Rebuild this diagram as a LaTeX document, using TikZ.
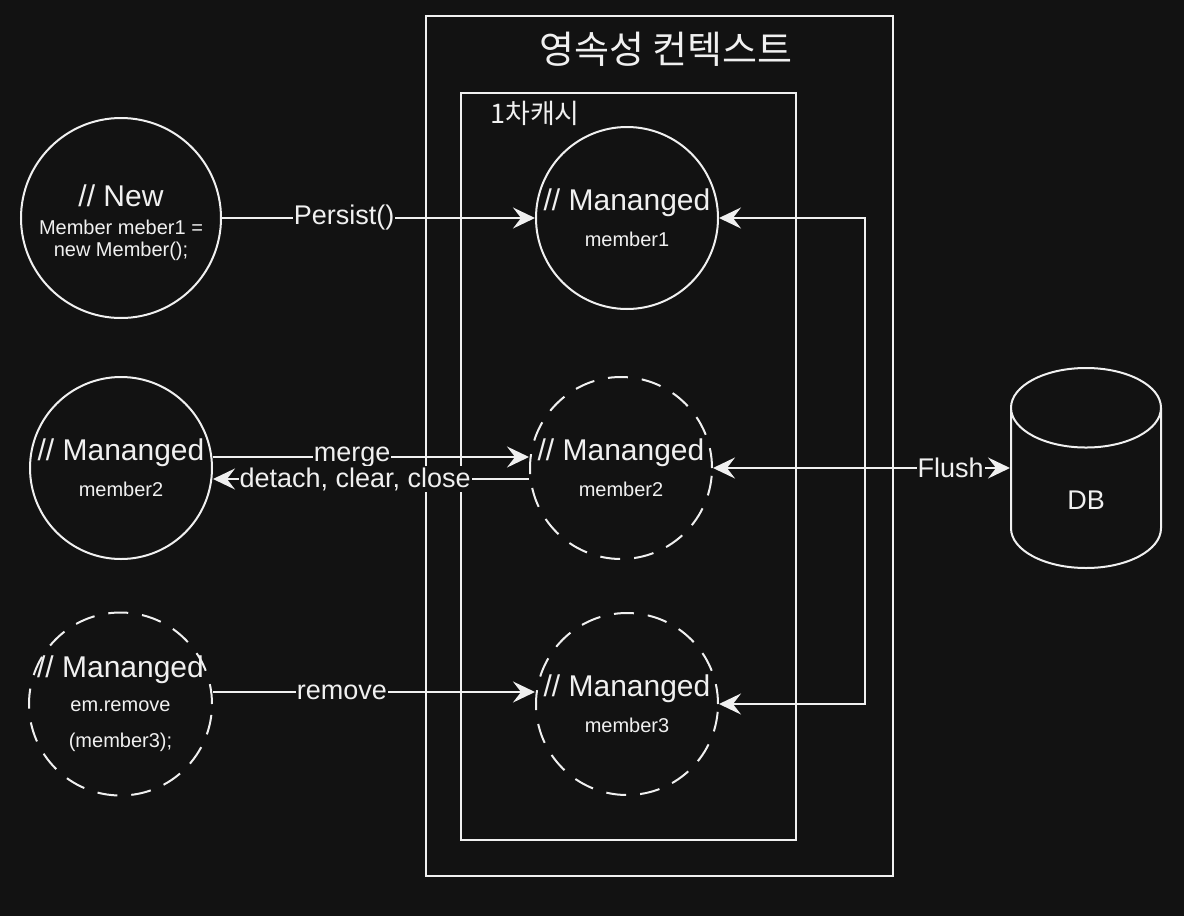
\documentclass[tikz,border=0pt]{standalone}
\usepackage{fontspec}
\setmainfont{Liberation Sans}
\newfontfamily\krfont{Noto Sans CJK KR}
\usetikzlibrary{positioning,arrows.meta,shapes.geometric}
\definecolor{bg}{RGB}{18,18,18}
\definecolor{fg}{RGB}{240,240,240}

\begin{document}
\begin{tikzpicture}[
        x=1pt, y=-1pt,
        >={Stealth[length=22pt, width=21pt, inset=8pt]},
        frame/.style={draw=fg, line width=2pt},
        ttl/.style={text=fg, inner sep=0pt},
        obj/.style={circle, draw=fg, line width=2pt, inner sep=0pt, minimum size=182pt, align=center, text=fg, font=\fontsize{20}{24}\selectfont},
        gone/.style={obj, dash pattern=on 20pt off 14pt},
        db/.style={cylinder, shape border rotate=90, aspect=1.8, draw=fg, line width=2pt, minimum width=150pt, minimum height=200pt, text=fg, text height=31pt, text depth=0pt, font=\fontsize{27}{32}\selectfont},
        flow/.style={draw=fg, line width=2pt, ->},
        lbl/.style={fill=bg, text=fg, inner sep=1pt, font=\fontsize{27}{32}\selectfont}
    ]
        \fill[bg] (0,0) rectangle (1184,916);
        \useasboundingbox (0,0) rectangle (1184,916);

        % persistence context and its first-level cache
        \node[frame, minimum width=467pt, minimum height=860pt] (ctx) at (659.5,446) {};
        \node[frame, minimum width=335pt, minimum height=747pt] (cache) at (628.5,466.5) {};
        \node[ttl, font=\krfont\fontsize{38}{42}\selectfont] (ctxname) at (666,49) {영속성 컨텍스트};
        \node[ttl, font=\krfont\fontsize{27}{30}\selectfont] (cachename) at (535,113) {1차캐시};

        \node[obj] (m1) at (627,218) {{\fontsize{30}{30}\selectfont // Mananged}\\[12pt]member1};
        \node[gone] (m2d) at (621,468) {{\fontsize{30}{30}\selectfont // Mananged}\\[12pt]member2};
        \node[gone] (m3) at (627,704) {{\fontsize{30}{30}\selectfont // Mananged}\\[12pt]member3};

        \node[obj, minimum size=200pt, font=\fontsize{20}{22}\selectfont, left=313pt of m1] (new) {{\fontsize{30}{30}\selectfont\rule{0pt}{32pt}// New}\\[6pt]Member meber1 =\\new Member();};
        \node[obj, left=316pt of m2d] (m2l) {{\fontsize{30}{30}\selectfont // Mananged}\\[12pt]member2};
        \node[gone, inner sep=-5pt, minimum size=183pt, font=\fontsize{20}{36}\selectfont, left=322pt of m3] (m3l) {{\fontsize{30}{30}\selectfont // Mananged}\\[-2pt]em.remove\\(member3);};

        \node[db, anchor=shape center] (db) at (1086,468) {DB};

        \draw[flow] (new) -- node[lbl, pos=0.39]{Persist()} (m1);
        \draw[flow] ([yshift=11pt]m2l.east) -- node[lbl, pos=0.44]{merge} ([yshift=11pt]m2d.west);
        \draw[flow] ([yshift=-11pt]m2d.west) -- node[lbl, pos=0.55]{detach, clear, close} ([yshift=-11pt]m2l.east);
        \draw[flow] ([yshift=12pt]m3l.east) -- node[lbl, pos=0.40]{remove} ([yshift=12pt]m3.west);

        % flush to the database, fanned out to every managed entity
        \coordinate (fork) at (865,468);
        \draw[flow] (fork) |- (m1.east);
        \draw[flow] (fork) |- (m3.east);
        \draw[flow, <->] (m2d.east) -- node[lbl, pos=0.8]{Flush} (m2d.east -| db.west);
    \end{tikzpicture}
\end{document}
